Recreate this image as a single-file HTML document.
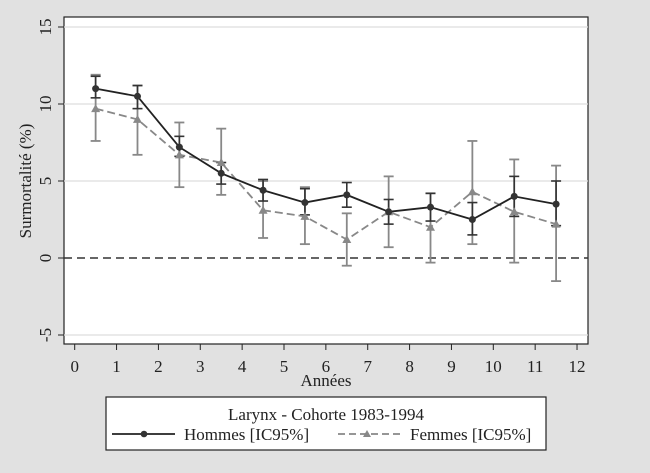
<!DOCTYPE html>
<html><head><meta charset="utf-8"><style>
html,body{margin:0;padding:0;background:#e1e1e1;}
svg{display:block;font-family:"Liberation Serif",serif;}
</style></head><body>
<svg width="650" height="473" viewBox="0 0 650 473" xmlns="http://www.w3.org/2000/svg">
<rect width="650" height="473" fill="#e1e1e1"/>
<rect x="64" y="17" width="524" height="327" fill="#fff" stroke="#222" stroke-width="1.2"/>
<g stroke="#ddd" stroke-width="1.2">
<line x1="64" x2="588" y1="27" y2="27"/><line x1="64" x2="588" y1="104" y2="104"/>
<line x1="64" x2="588" y1="181" y2="181"/><line x1="64" x2="588" y1="335" y2="335"/>
</g>
<line x1="64" x2="588" y1="258" y2="258" stroke="#333" stroke-width="1.5" stroke-dasharray="8,5"/>
<g stroke="#222" stroke-width="1">
<line x1="58" x2="64" y1="27" y2="27"/><line x1="58" x2="64" y1="104" y2="104"/><line x1="58" x2="64" y1="181" y2="181"/><line x1="58" x2="64" y1="258" y2="258"/><line x1="58" x2="64" y1="335" y2="335"/>
</g>
<g font-size="17" fill="#222" text-anchor="middle">
<text transform="translate(51,27) rotate(-90)">15</text>
<text transform="translate(51,104) rotate(-90)">10</text>
<text transform="translate(51,181) rotate(-90)">5</text>
<text transform="translate(51,258) rotate(-90)">0</text>
<text transform="translate(51,335) rotate(-90)">-5</text>
<text transform="translate(31,181) rotate(-90)" font-size="17">Surmortalité (%)</text>
</g>
<g id="xt" stroke="#222" stroke-width="1"></g>
<g id="xl" font-size="17" fill="#222" text-anchor="middle"></g>
<text x="326" y="386" font-size="17" fill="#222" text-anchor="middle">Années</text>
<g id="data"></g>
<rect x="106" y="397" width="440" height="53" fill="#fff" stroke="#222" stroke-width="1.2"/>
<text x="326" y="420" font-size="17" fill="#222" text-anchor="middle">Larynx - Cohorte 1983-1994</text>
<line x1="112" x2="175" y1="434" y2="434" stroke="#222" stroke-width="1.8"/>
<circle cx="144" cy="434" r="3.3" fill="#333"/>
<text x="184" y="440" font-size="17" fill="#222">Hommes [IC95%]</text>
<line x1="338" x2="400" y1="434" y2="434" stroke="#888" stroke-width="1.8" stroke-dasharray="7,4"/>
<polygon points="367,430 371,437 363,437" fill="#888"/>
<text x="410" y="440" font-size="17" fill="#222">Femmes [IC95%]</text>
</svg>
<script>
var ns="http://www.w3.org/2000/svg";
function X(v){return 74.7+v*41.86;}function Y(v){return 258-15.4*v;}
function el(p,t,a){var e=document.createElementNS(ns,t);for(var k in a)e.setAttribute(k,a[k]);p.appendChild(e);return e;}
var xt=document.getElementById('xt'),xl=document.getElementById('xl');
for(var i=0;i<=12;i++){el(xt,'line',{x1:X(i),x2:X(i),y1:344,y2:350});var t=el(xl,'text',{x:X(i),y:372});t.textContent=i;}
var H=[11.0,10.5,7.2,5.5,4.4,3.6,4.1,3.0,3.3,2.5,4.0,3.5];
var HL=[10.4,9.7,6.6,4.8,3.7,2.8,3.3,2.2,2.4,1.5,2.7,2.1];
var HU=[11.8,11.2,7.9,6.2,5.1,4.5,4.9,3.8,4.2,3.6,5.3,5.0];
var F=[9.7,9.0,6.7,6.2,3.1,2.7,1.2,3.0,2.0,4.3,3.0,2.2];
var FL=[7.6,6.7,4.6,4.1,1.3,0.9,-0.5,0.7,-0.3,0.9,-0.3,-1.5];
var FU=[11.9,11.2,8.8,8.4,5.0,4.6,2.9,5.3,4.2,7.6,6.4,6.0];
var d=document.getElementById('data');
function ci(L,U,c,w){for(var i=0;i<12;i++){var x=X(i+0.5);el(d,'line',{x1:x,x2:x,y1:Y(L[i]),y2:Y(U[i]),stroke:c,'stroke-width':w});
[L[i],U[i]].forEach(function(v){el(d,'line',{x1:x-5,x2:x+5,y1:Y(v),y2:Y(v),stroke:c,'stroke-width':w});});}}
ci(FL,FU,'#888',1.8);ci(HL,HU,'#333',1.6);
function pts(A){return A.map(function(v,i){return X(i+0.5)+','+Y(v);}).join(' ');}
el(d,'polyline',{points:pts(F),fill:'none',stroke:'#888','stroke-width':1.8,'stroke-dasharray':'8,4'});
el(d,'polyline',{points:pts(H),fill:'none',stroke:'#222','stroke-width':1.8});
F.forEach(function(v,i){var x=X(i+0.5),y=Y(v);el(d,'polygon',{points:(x)+','+(y-4.5)+' '+(x+4.5)+','+(y+3.5)+' '+(x-4.5)+','+(y+3.5),fill:'#888'});});
H.forEach(function(v,i){el(d,'circle',{cx:X(i+0.5),cy:Y(v),r:3.5,fill:'#333'});});
</script>
</body></html>
